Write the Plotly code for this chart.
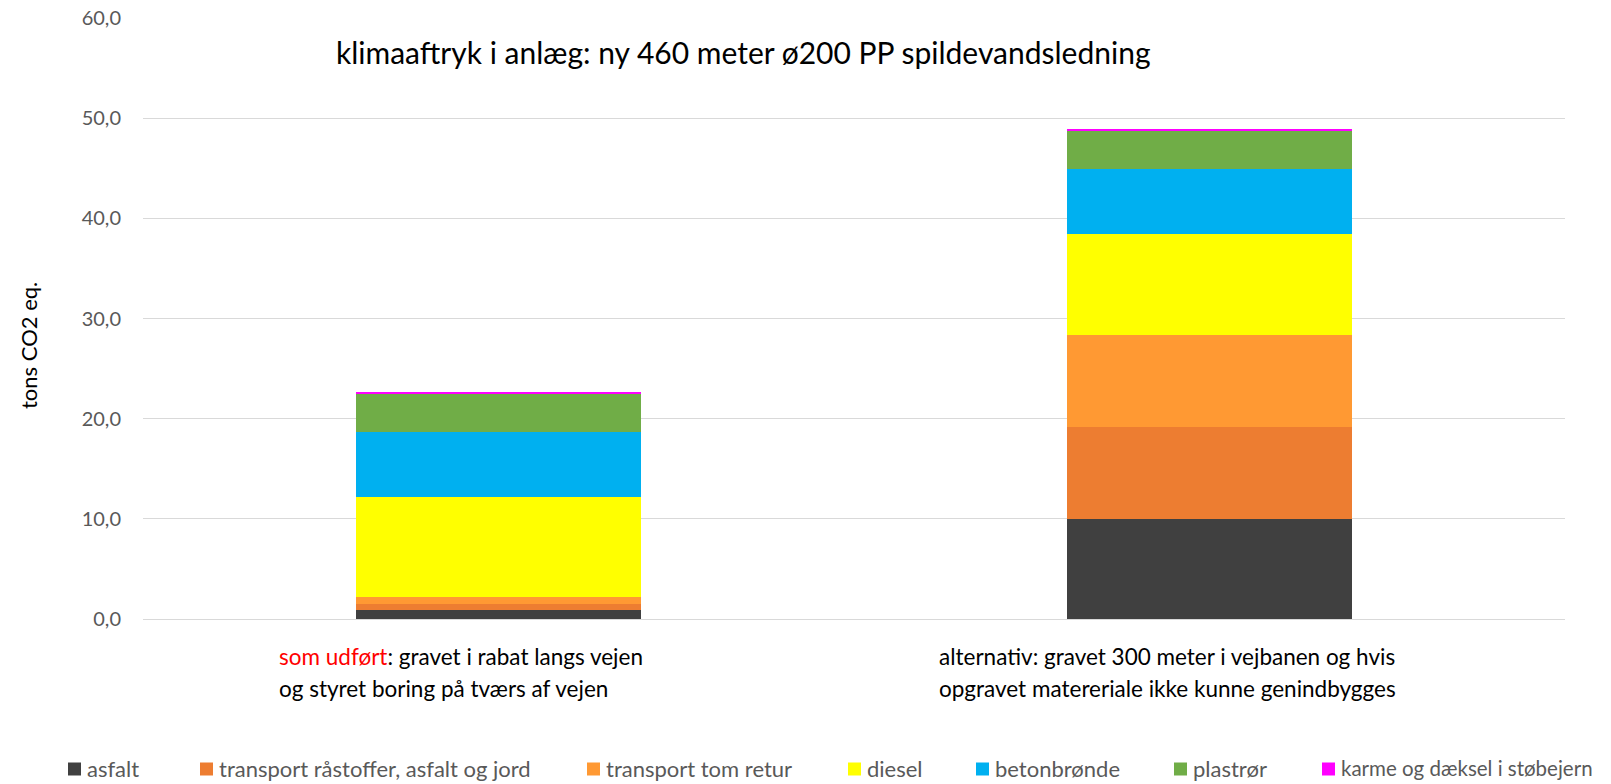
import plotly.graph_objects as go

categories = ["som udført", "alternativ"]
category_lines = [
    ["<span style='color:#FF0000'>som udført</span>: gravet i rabat langs vejen",
     "og styret boring på tværs af vejen"],
    ["alternativ: gravet 300 meter i vejbanen og hvis",
     "opgravet matereriale ikke kunne genindbygges"],
]
series_names = [
    "asfalt",
    "transport råstoffer, asfalt og jord",
    "transport tom retur",
    "diesel",
    "betonbrønde",
    "plastrør",
    "karme og dæksel i støbejern",
]
asfalt = [0.85, 10.0]
transport_raastoffer = [0.67, 9.2]
transport_tom_retur = [0.63, 9.2]
diesel = [10.0, 10.0]
betonbroende = [6.5, 6.5]
plastroer = [3.8, 3.8]
karme = [0.25, 0.2]
series_values = [asfalt, transport_raastoffer, transport_tom_retur, diesel,
                 betonbroende, plastroer, karme]
colors = ["#404040", "#ED7D31", "#FF9933", "#FFFF00", "#00B0F0", "#70AD47", "#FF00FF"]
y_ticks = [0, 10, 20, 30, 40, 50, 60]

FONT = "Lato, Liberation Sans, Arial, sans-serif"
W, H = 1611, 784
ML, MR, MT, MB = 143, 46, 18, 165
PW, PH = W - ML - MR, H - MT - MB


def px2paper_x(px):
    return (px - ML) / PW


def px2paper_y(py):
    return (H - MB - py) / PH


fig = go.Figure()
for name, vals, col in zip(series_names, series_values, colors):
    fig.add_trace(go.Bar(
        x=categories, y=vals, name=name,
        marker=dict(color=col, line=dict(width=0)),
    ))

fig.update_layout(
    barmode="stack",
    bargap=0.6,
    width=W, height=H,
    margin=dict(l=ML, r=MR, t=MT, b=MB, autoexpand=False),
    plot_bgcolor="white", paper_bgcolor="white",
    font=dict(family=FONT, color="#595959", size=18),
    showlegend=False,
    xaxis=dict(showticklabels=False, showline=False, ticks="", showgrid=False,
               automargin=False),
    yaxis=dict(
        range=[0, 60], tickvals=y_ticks, tickformat=".1f",
        showgrid=True, gridcolor="#D9D9D9", gridwidth=1,
        zeroline=True, zerolinecolor="#D9D9D9", zerolinewidth=1,
        showline=False, ticks="", ticklabelstandoff=21, automargin=False,
        tickfont=dict(family=FONT, size=20, color="#595959"),
    ),
    separators=", ",
)

# y-axis title
fig.add_annotation(
    text="tons CO2 eq.", xref="paper", yref="paper",
    x=px2paper_x(28), y=px2paper_y(345), textangle=-90,
    xanchor="center", yanchor="middle", showarrow=False,
    font=dict(family=FONT, size=22, color="#000000"),
)

# title
fig.add_annotation(
    text="klimaaftryk i anlæg: ny 460 meter ø200 PP spildevandsledning",
    xref="paper", yref="paper", x=px2paper_x(334), y=px2paper_y(52),
    xanchor="left", yanchor="middle", showarrow=False,
    font=dict(family=FONT, size=30, color="#000000"),
)

# category labels (left aligned, two lines)
label_left_px = [277, 937]
label_line_y_px = [656, 689]
for lines, lx in zip(category_lines, label_left_px):
    for line, ly in zip(lines, label_line_y_px):
        fig.add_annotation(
            text=line, xref="paper", yref="paper",
            x=px2paper_x(lx), y=px2paper_y(ly),
            xanchor="left", yanchor="middle", showarrow=False,
            font=dict(family=FONT, size=22.5, color="#000000"),
        )

# legend (drawn manually so it spans one row like the original)
legend_marker_px = [68, 200, 587, 848, 976, 1174, 1322]
legend_font_sizes = [22, 22, 22, 22, 22, 22, 20.5]
legend_y_px = 768
sq = 13
for name, col, mx, fs in zip(series_names, colors, legend_marker_px, legend_font_sizes):
    fig.add_shape(
        type="rect", xref="paper", yref="paper",
        x0=px2paper_x(mx), x1=px2paper_x(mx + sq),
        y0=px2paper_y(legend_y_px + 1 + sq / 2), y1=px2paper_y(legend_y_px + 1 - sq / 2),
        fillcolor=col, line=dict(width=0),
    )
    fig.add_annotation(
        text=name, xref="paper", yref="paper",
        x=px2paper_x(mx + sq + 4), y=px2paper_y(legend_y_px),
        xanchor="left", yanchor="middle", showarrow=False,
        font=dict(family=FONT, size=fs, color="#595959"),
    )

fig.write_html("out.html")
